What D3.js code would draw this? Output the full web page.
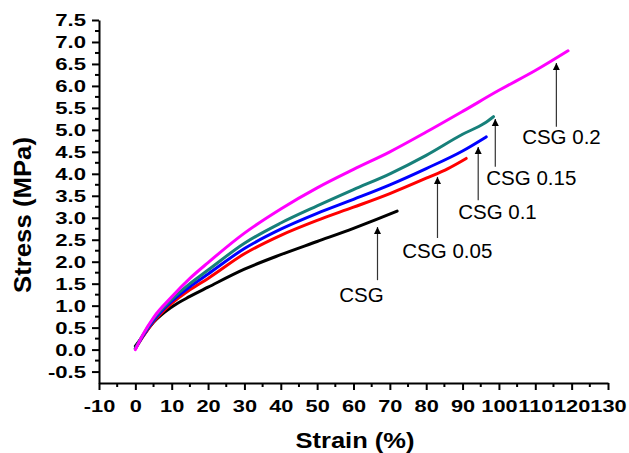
<!DOCTYPE html>
<html>
<head>
<meta charset="utf-8">
<script src="https://cdn.jsdelivr.net/npm/d3@7"></script>
<style>
  body { margin: 0; background: #fff; }
  svg { display: block; }
  .tick text { font-family: "Liberation Sans", Arial, sans-serif; font-weight: bold; font-size: 17px; fill: #000; }
  .axis path, .axis line { stroke: #000; stroke-width: 2; }
  .minor line { stroke: #000; stroke-width: 2; }
  .title { font-family: "Liberation Sans", Arial, sans-serif; font-weight: bold; fill: #000; }
  .anno { font-family: "Liberation Sans", Arial, sans-serif; font-size: 20.5px; fill: #000; }
</style>
</head>
<body>
<script>
// curves: strain (%) and stress (MPa)
var seriesNames = ['CSG', 'CSG 0.05', 'CSG 0.1', 'CSG 0.15', 'CSG 0.2'];
var seriesColors = ['#000000', '#ff0000', '#0000ff', '#17807a', '#ff00ff'];

var csgStrain = [0, 2, 5, 10, 15, 20, 30, 40, 50, 60, 66, 72];
var csgStress = [0.08, 0.3, 0.62, 0.97, 1.21, 1.42, 1.83, 2.16, 2.46, 2.76, 2.95, 3.15];

var csg005Strain = [0, 2, 5, 10, 15, 20, 30, 40, 50, 60, 70, 80, 86, 91];
var csg005Stress = [0.02, 0.28, 0.63, 1.05, 1.36, 1.62, 2.18, 2.6, 2.94, 3.24, 3.55, 3.9, 4.12, 4.35];

var csg01Strain = [0, 2, 5, 10, 15, 20, 30, 40, 50, 60, 70, 80, 90, 96.5];
var csg01Stress = [0.02, 0.3, 0.66, 1.1, 1.43, 1.72, 2.3, 2.74, 3.1, 3.42, 3.75, 4.12, 4.52, 4.84];

var csg015Strain = [0, 2, 5, 10, 15, 20, 30, 40, 50, 60, 70, 80, 90, 96, 98.5];
var csg015Stress = [0.03, 0.32, 0.7, 1.14, 1.5, 1.81, 2.42, 2.88, 3.27, 3.64, 4.0, 4.42, 4.9, 5.15, 5.3];

var csg02Strain = [0, 2, 5, 10, 15, 20, 30, 40, 50, 60, 70, 80, 90, 100, 110, 119];
var csg02Stress = [0, 0.33, 0.73, 1.2, 1.62, 1.98, 2.65, 3.2, 3.68, 4.1, 4.5, 4.95, 5.42, 5.9, 6.35, 6.8];

var xTicks = [-10, 0, 10, 20, 30, 40, 50, 60, 70, 80, 90, 100, 110, 120, 130];
var yTicks = [-0.5, 0, 0.5, 1, 1.5, 2, 2.5, 3, 3.5, 4, 4.5, 5, 5.5, 6, 6.5, 7, 7.5];

// arrow labels: arrow strain, tip / tail stress, label centre strain, label baseline stress
var annoText = ['CSG', 'CSG 0.05', 'CSG 0.1', 'CSG 0.15', 'CSG 0.2'];
var annoStrain = [66.6, 83.1, 94.3, 99, 115.8];
var annoTip = [2.79, 3.93, 4.61, 5.25, 6.52];
var annoTail = [1.58, 2.54, 3.4, 4.16, 5.07];
var annoLabelX = [62.2, 85.8, 99.6, 108.9, 117.2];
var annoLabelY = [1.08, 2.09, 2.97, 3.75, 4.68];

var width = 629, height = 453;

var svg = d3.select('body').append('svg')
  .attr('width', width)
  .attr('height', height);

var x = d3.scaleLinear().domain([-10, 130]).range([99, 608]);
var y = d3.scaleLinear().domain([-0.76, 7.5]).range([383, 20]);

function stretch(sel, k) {
  sel.each(function() {
    var len = this.getComputedTextLength();
    d3.select(this).attr('textLength', len * k).attr('lengthAdjust', 'spacingAndGlyphs');
  });
}

// plain hyphen for negatives, like the original
function fmt(spec) {
  var f = d3.format(spec);
  return function(d) { return f(d).replace('\u2212', '-'); };
}

// minor ticks
var xMinor = xTicks.slice(0, -1).map(function(d) { return d + 5; });
var yMinor = yTicks.slice(0, -1).map(function(d) { return d + 0.25; });

svg.append('g').attr('class', 'minor')
  .selectAll('line').data(xMinor).enter().append('line')
  .attr('x1', function(d) { return x(d); }).attr('x2', function(d) { return x(d); })
  .attr('y1', 383).attr('y2', 387);

svg.append('g').attr('class', 'minor')
  .selectAll('line').data(yMinor).enter().append('line')
  .attr('x1', 99).attr('x2', 95)
  .attr('y1', function(d) { return y(d); }).attr('y2', function(d) { return y(d); });

var xAxis = svg.append('g')
  .attr('class', 'axis')
  .attr('transform', 'translate(0,383)')
  .call(d3.axisBottom(x).tickValues(xTicks).tickSize(7).tickPadding(10).tickSizeOuter(0)
    .tickFormat(fmt('d')));

var yAxis = svg.append('g')
  .attr('class', 'axis')
  .attr('transform', 'translate(99,0)')
  .call(d3.axisLeft(y).tickValues(yTicks).tickSize(7).tickPadding(6).tickSizeOuter(0)
    .tickFormat(fmt('.1f')));

stretch(xAxis.selectAll('.tick text'), 1.28);
stretch(yAxis.selectAll('.tick text'), 1.3);

// curves
var strains = [csgStrain, csg005Strain, csg01Strain, csg015Strain, csg02Strain];
var stresses = [csgStress, csg005Stress, csg01Stress, csg015Stress, csg02Stress];

var line = d3.line()
  .x(function(d) { return x(d[0]); })
  .y(function(d) { return y(d[1]); })
  .curve(d3.curveMonotoneX);

seriesNames.forEach(function(name, i) {
  var pts = strains[i].map(function(s, j) { return [s, stresses[i][j]]; });
  svg.append('path')
    .datum(pts)
    .attr('d', line)
    .attr('fill', 'none')
    .attr('stroke', seriesColors[i])
    .attr('stroke-width', 3)
    .attr('stroke-linejoin', 'round')
    .attr('stroke-linecap', 'round');
});

// arrows
svg.append('defs').append('marker')
  .attr('id', 'head')
  .attr('viewBox', '0 0 10 10')
  .attr('refX', 10).attr('refY', 5)
  .attr('markerWidth', 7).attr('markerHeight', 10)
  .attr('markerUnits', 'userSpaceOnUse')
  .attr('orient', 'auto')
  .append('path')
  .attr('d', 'M0,0 L10,5 L0,10 Z')
  .attr('fill', '#000');

annoText.forEach(function(t, i) {
  svg.append('line')
    .attr('x1', x(annoStrain[i])).attr('x2', x(annoStrain[i]))
    .attr('y1', y(annoTail[i])).attr('y2', y(annoTip[i]))
    .attr('stroke', '#333')
    .attr('stroke-width', 1.2)
    .attr('marker-end', 'url(#head)');
  svg.append('text')
    .attr('class', 'anno')
    .attr('x', x(annoLabelX[i]))
    .attr('y', y(annoLabelY[i]))
    .attr('text-anchor', 'middle')
    .text(t);
});

// axis titles
svg.append('text')
  .attr('class', 'title')
  .attr('x', 355).attr('y', 448)
  .attr('text-anchor', 'middle')
  .style('font-size', '22px')
  .attr('textLength', 119).attr('lengthAdjust', 'spacingAndGlyphs')
  .text('Strain (%)');

svg.append('text')
  .attr('class', 'title')
  .attr('transform', 'translate(31,215) rotate(-90)')
  .attr('text-anchor', 'middle')
  .style('font-size', '24px')
  .attr('textLength', 156).attr('lengthAdjust', 'spacingAndGlyphs')
  .text('Stress (MPa)');
</script>
</body>
</html>
